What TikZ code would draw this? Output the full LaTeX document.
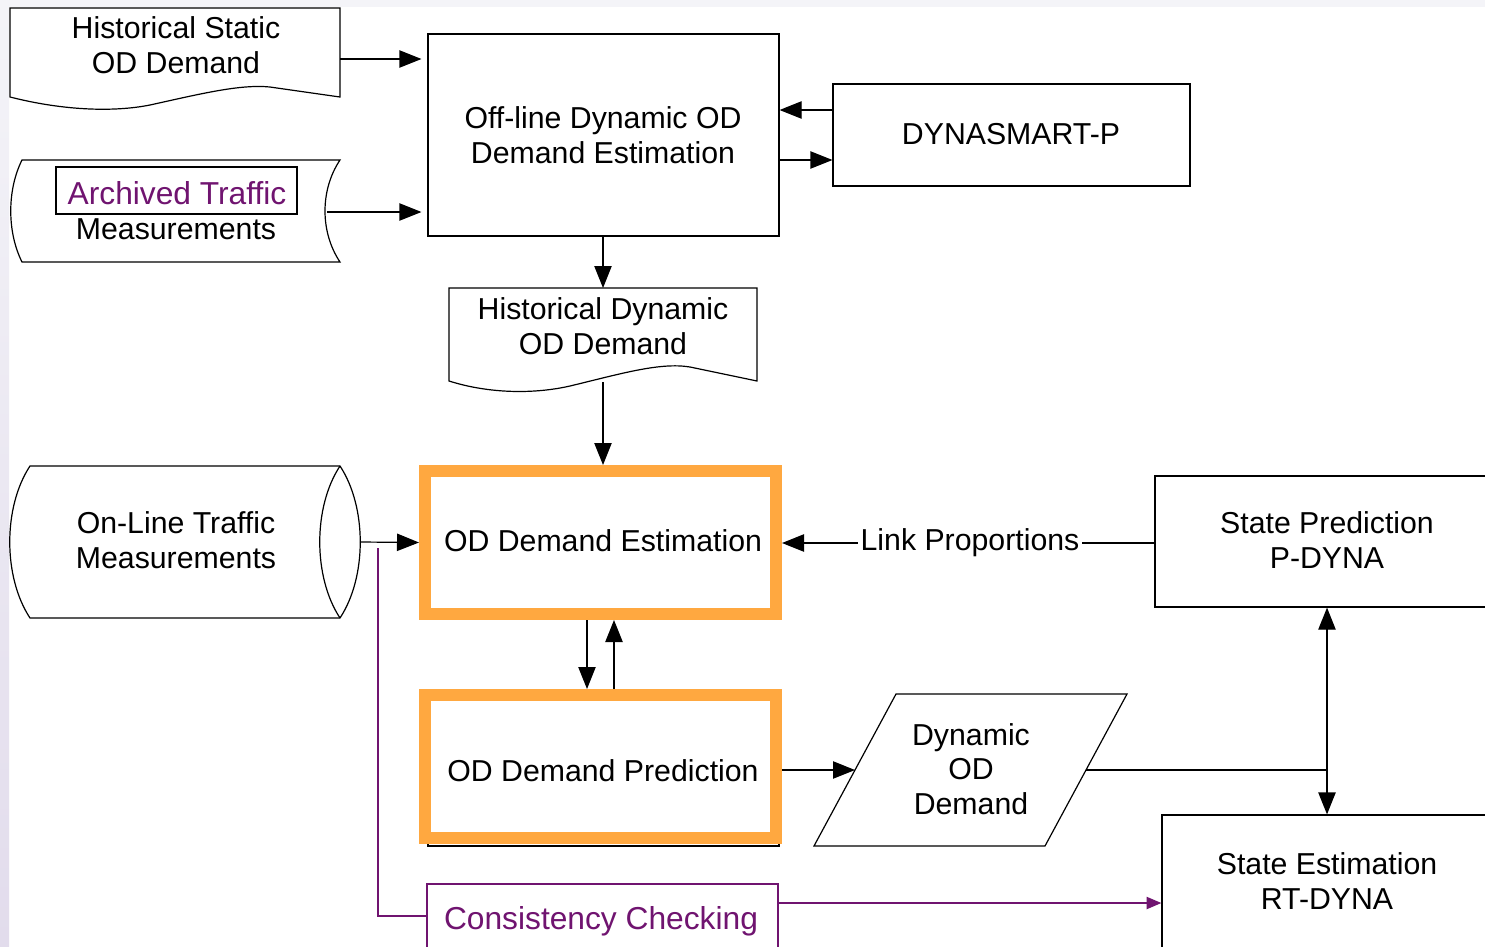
\documentclass[tikz,border=0pt]{standalone}
\usepackage{fontspec}
\setmainfont{Liberation Sans}
\usetikzlibrary{arrows.meta,fit}
\definecolor{odorange}{RGB}{255,168,64}
\definecolor{odpurple}{RGB}{112,20,112}
\definecolor{bgtop}{RGB}{244,244,248}
\begin{document}
\begin{tikzpicture}[x=0.75pt,y=-0.75pt,
  lbl/.style={font=\fontsize{22.7}{26}\selectfont, align=center, inner sep=0pt},
  plbl/.style={font=\fontsize{23.8}{27}\selectfont, align=center, inner sep=0pt, text=odpurple},
  box/.style={draw, line width=0.9pt, inner sep=0pt},
  ghost/.style={inner sep=0pt, outer sep=0pt},
  obox/.style={draw=odorange, line width=9pt, inner sep=0pt, fill=white},
  pbox/.style={draw=odpurple, line width=1.4pt, inner sep=0pt},
  shp/.style={draw, line width=0.9pt, fill=white},
  arr/.style={-{Triangle[length=16.5pt,width=13pt]}, line width=0.9pt},
  darr/.style={{Triangle[length=16.5pt,width=13pt]}-{Triangle[length=16.5pt,width=13pt]}, line width=0.9pt},
  parr/.style={-{Triangle[length=11pt,width=9pt]}, line width=1.4pt, draw=odpurple},
  pline/.style={line width=1.4pt, draw=odpurple}]
\clip (0,0) rectangle (1485,946);
\fill[white] (0,0) rectangle (1485,946);
\fill[bgtop] (0,0) rectangle (1485,7);
\shade[top color=bgtop, bottom color={rgb,255:red,226;green,220;blue,236}] (0,0) rectangle (9,946);

% Historical Static OD Demand (document)
\draw[shp] (10,8) -- (340,8) -- (340,97) -- (270,87) .. controls (240,84) and (200,94) .. (150,105) .. controls (115,112) and (65,111) .. (10,97) -- cycle;
\node[ghost, fit={(10,8)(340,97)}] (hsod) {};
\node[lbl] (hsodt) at (176,45) {Historical Static\\OD Demand};

% Archived Traffic Measurements (stored data)
\draw[shp] (22,160) -- (340,160) .. controls (320,190) and (320,232) .. (340,262) -- (22,262) .. controls (7,232) and (7,190) .. (22,160) -- cycle;
\node[ghost, fit={(10,160)(340,262)}] (arch) {};
\node[draw, line width=1.6pt, inner sep=0pt, fit={(56,167)(297,214)}] (archbox) {};
\node[plbl] (archbt) at (177,193) {Archived Traffic};
\node[lbl] (archt) at (176,229) {Measurements};
\coordinate (archout) at (327,212);

% Off-line box
\node[box, fit={(428,34)(779,236)}] (off) {};
\node[lbl] (offt) at (603,135) {Off-line Dynamic OD\\Demand Estimation};

% DYNASMART-P
\node[box, fit={(833,84)(1190,186)}] (dyn) {};
\node[lbl] (dynt) at (1011,134) {DYNASMART-P};

% Historical Dynamic OD Demand (document)
\draw[shp] (449,288) -- (757,288) -- (757,381) -- (690,367) .. controls (660,362) and (620,374) .. (570,386) .. controls (535,394) and (490,394) .. (449,381) -- cycle;
\node[ghost, fit={(449,288)(757,381)}] (hdod) {};
\node[lbl] (hdodt) at (603,326) {Historical Dynamic\\OD Demand};
\coordinate (hdodout) at (603,382);

% On-Line Traffic Measurements (cylinder)
\draw[shp] (30,466) -- (340,466) .. controls (367,507) and (367,577) .. (340,618) -- (30,618) .. controls (3,577) and (3,507) .. (30,466) -- cycle;
\draw[line width=0.9pt] (340,466) .. controls (313,507) and (313,577) .. (340,618);
\node[ghost, fit={(10,466)(360,618)}] (onl) {};
\node[lbl] (onlt) at (176,540) {On-Line Traffic\\Measurements};

% OD Demand Estimation
\node[obox, fit={(425,471)(776,614)}] (ode) {};
\node[lbl] (odet) at (603,541) {OD Demand Estimation};

% OD Demand Prediction
\node[box, fit={(428,692)(779,846)}] (odpback) {};
\node[obox, fit={(425,695)(776,838)}] (odp) {};
\node[lbl] (odpt) at (603,771) {OD Demand Prediction};

% Dynamic OD Demand (parallelogram)
\draw[shp] (896,694) -- (1127,694) -- (1045,846) -- (814,846) -- cycle;
\node[lbl] (dod) at (971,769) {Dynamic\\OD\\Demand};
\coordinate (dodL) at (855,770);
\coordinate (dodR) at (1086,770);
\coordinate (junc) at (1327,770);

% State Prediction
\node[box, fit={(1155,476)(1500,607)}] (sp) {};
\node[lbl] (spt) at (1327,540) {State Prediction\\P-DYNA};

% State Estimation
\node[box, fit={(1162,815)(1500,980)}] (se) {};
\node[lbl] (set) at (1327,881) {State Estimation\\RT-DYNA};

% Consistency Checking
\node[pbox, fit={(427,884)(778,980)}] (cc) {};
\node[plbl] (cct) at (601,921) {Consistency Checking};
\coordinate (pstart) at (378,548);

% Link Proportions
\node[lbl, fill=white, inner xsep=2pt] (lp) at (970,543) {Link Proportions};

% connectors
\draw[arr, shorten >=4.5pt] (hsod.east |- 0,59) -- (off.west |- 0,59);
\draw[arr, shorten >=4.5pt] (archout) -- (off.west |- archout);
\draw[arr] (dyn.west |- 0,110) -- (off.east |- 0,110);
\draw[arr] (off.east |- 0,160) -- (dyn.west |- 0,160);
\draw[arr] (hdodout |- off.south) -- (hdodout |- hdod.north);
\draw[arr] (hdodout) -- (hdodout |- ode.north);
\draw[arr] (onl.east) -- (ode.west);
\draw[line width=0.9pt] (sp.west |- lp.east) -- (lp.east);
\draw[arr] (lp.west) -- (ode.east |- lp.west);
\draw[arr] (ode.south -| 587,0) -- (odp.north -| 587,0);
\draw[arr] (odp.north -| 614,0) -- (ode.south -| 614,0);
\draw[arr] (odp.east |- dodL) -- (dodL);
\draw[line width=0.9pt] (dodR) -- (junc);
\draw[darr] (sp.south -| junc) -- (se.north -| junc);
\draw[pline] (pstart) -- (378,916) -- (cc.west |- 0,916);
\draw[parr] (cc.east |- 0,903) -- (se.west |- 0,903);
\end{tikzpicture}
\end{document}
